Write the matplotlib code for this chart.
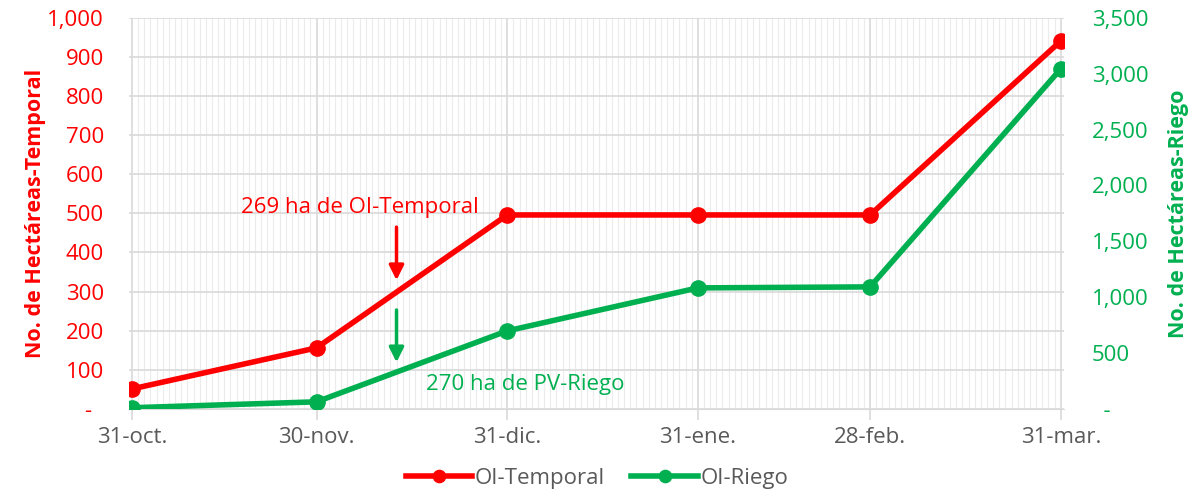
import numpy as np
import pandas as pd
import matplotlib
matplotlib.use('Agg')
import matplotlib.pyplot as plt
import matplotlib.dates as mdates
from matplotlib.ticker import FuncFormatter, MultipleLocator

plt.rcParams['font.family'] = ['Open Sans', 'DejaVu Sans']

# data
dates = pd.to_datetime(['2020-10-31', '2020-11-30', '2020-12-31',
                        '2021-01-31', '2021-02-28', '2021-03-31'])
date_labels = ['31-oct.', '30-nov.', '31-dic.', '31-ene.', '28-feb.', '31-mar.']
temporal = [51, 156, 496, 496, 496, 941]
riego = [10, 63, 698, 1083, 1092, 3044]

RED = '#FF0000'
GREEN = '#00B050'
GRAY = '#595959'

fig = plt.figure(figsize=(11.94, 4.98), dpi=100)
ax = fig.add_axes([0.108, 0.179, 0.783, 0.785])
ax2 = ax.twinx()

ax.set_xlim(dates[0] - pd.Timedelta(days=0.5), dates[-1] + pd.Timedelta(days=0.5))
ax.set_ylim(0, 1000)
ax2.set_ylim(0, 3500)

# grid
ax.xaxis.set_minor_locator(mdates.DayLocator())
ax.set_xticks(dates)
ax.set_xticklabels(date_labels)
ax.grid(which='minor', axis='x', color='#ECECEC', lw=0.8)
ax.grid(which='major', axis='x', color='#D9D9D9', lw=1.2)
ax.grid(which='major', axis='y', color='#D9D9D9', lw=1.2)
ax.set_axisbelow(True)

fmt = lambda v, p: '-  ' if v == 0 else f'{v:,.0f}'
fmt2 = lambda v, p: '  -' if v == 0 else f'{v:,.0f}'
ax.yaxis.set_major_locator(MultipleLocator(100))
ax.yaxis.set_major_formatter(FuncFormatter(fmt))
ax2.yaxis.set_major_locator(MultipleLocator(500))
ax2.yaxis.set_major_formatter(FuncFormatter(fmt2))

for sp in ['top', 'left', 'right']:
    ax.spines[sp].set_visible(False)
    ax2.spines[sp].set_visible(False)
ax.spines['bottom'].set_color('#D9D9D9')
ax2.spines['bottom'].set_visible(False)

ax.tick_params(axis='x', which='major', colors='#D9D9D9', length=8, width=1.2,
               labelcolor=GRAY, labelsize=16, pad=5)
ax.tick_params(axis='x', which='minor', length=0)
ax.tick_params(axis='y', length=0, labelcolor=RED, labelsize=16, pad=18)
ax2.tick_params(axis='y', length=0, labelcolor=GREEN, labelsize=16, pad=20)

ax.set_ylabel('No. de Hectáreas-Temporal', color=RED, fontsize=15.5, fontweight='bold', labelpad=1)
ax2.set_ylabel('No. de Hectáreas-Riego', color=GREEN, fontsize=15.5, fontweight='bold', labelpad=14)

l1, = ax.plot(dates, temporal, color=RED, lw=4, marker='o', ms=11, label='OI-Temporal', zorder=5)
l2, = ax2.plot(dates, riego, color=GREEN, lw=4, marker='o', ms=11, label='OI-Riego', zorder=4)

# annotations
xa = pd.Timestamp('2020-12-13')
ax.annotate('', xy=(xa, 322), xytext=(xa, 472),
            arrowprops=dict(arrowstyle='-|>', color=RED, lw=2.5, mutation_scale=22))
ax.text(pd.Timestamp('2020-12-07'), 515, '269 ha de OI-Temporal', color=RED,
        fontsize=16, ha='center', va='center')
ax.annotate('', xy=(xa, 112), xytext=(xa, 260),
            arrowprops=dict(arrowstyle='-|>', color=GREEN, lw=2.5, mutation_scale=22))
ax.text(pd.Timestamp('2021-01-03'), 62, '270 ha de PV-Riego', color=GREEN,
        fontsize=16, ha='center', va='center')

fig.legend(handles=[l1, l2], loc='lower center', bbox_to_anchor=(0.5, -0.022), ncol=2,
           frameon=False, fontsize=16, labelcolor=GRAY, handlelength=3,
           columnspacing=1.2, handletextpad=0.1, markerscale=0.8)

fig.savefig('out.png', dpi=100)
